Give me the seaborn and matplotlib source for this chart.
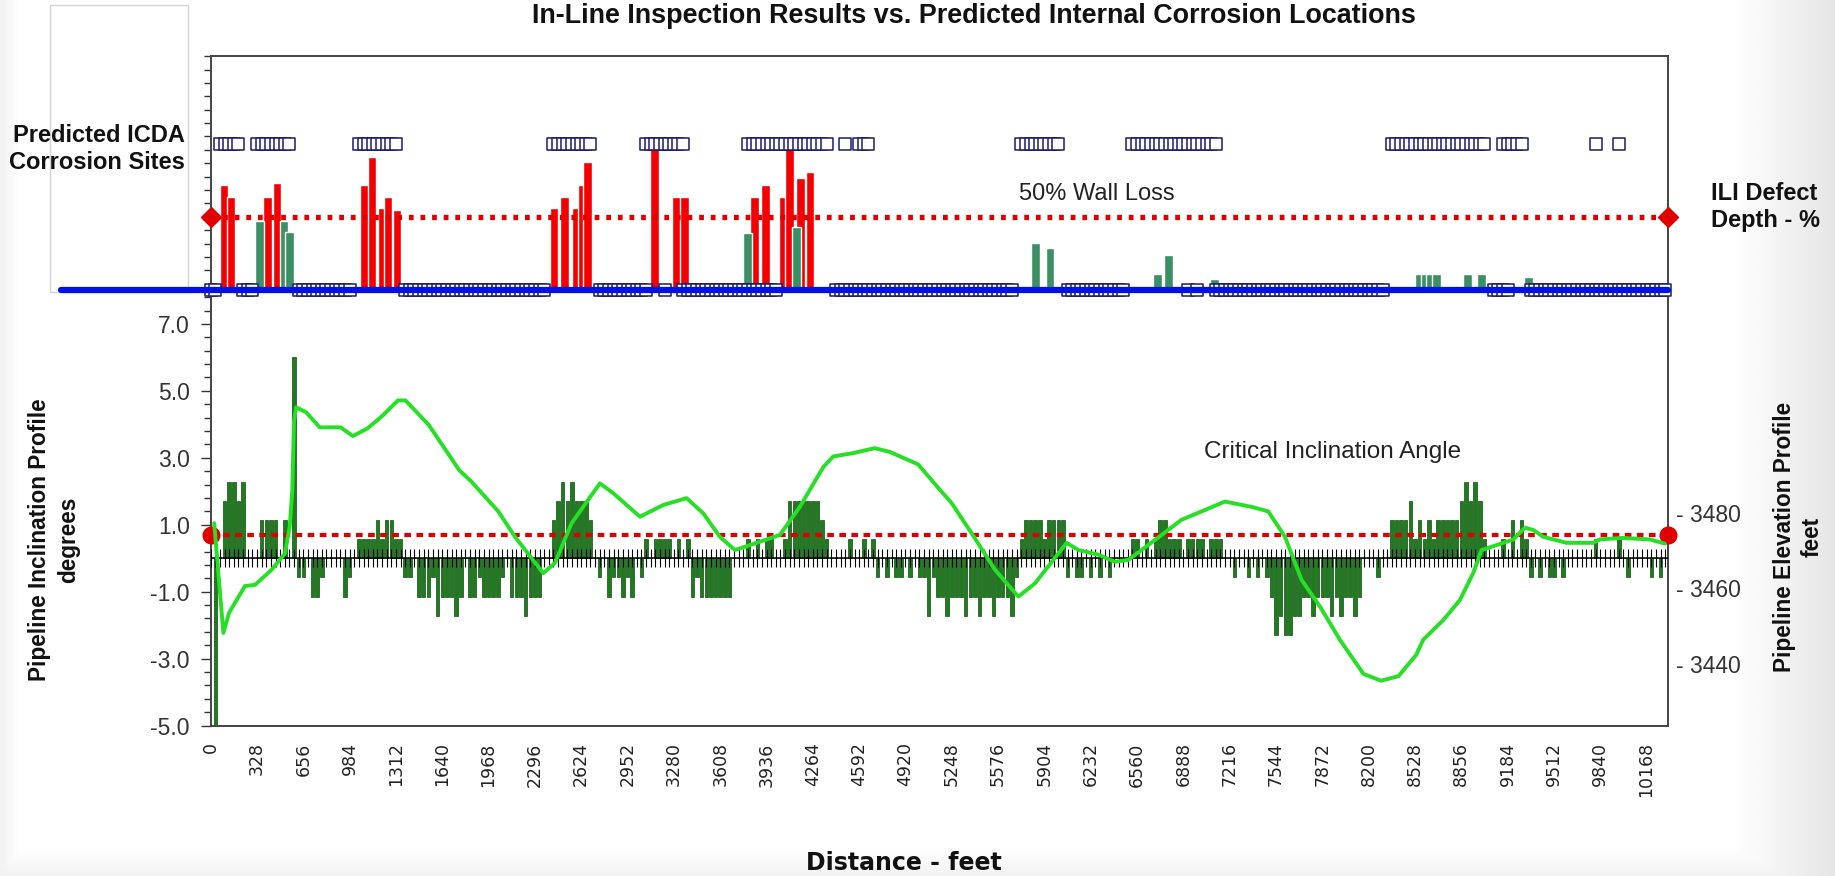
import numpy as np
import pandas as pd
import matplotlib
matplotlib.use("Agg")
import matplotlib.pyplot as plt
from matplotlib.patches import Rectangle
from matplotlib.ticker import MultipleLocator
import seaborn as sns

# -----------------------------
# data
# -----------------------------
STATION_FT = 32.8       # ILI / ICDA station spacing (10 m)
INCL_STEP_DEG = 0.573   # inclination resolution (0.01 rad)
DIST_MAX_FT = 10317

# inclination at each station, in steps of INCL_STEP_DEG
incl_code = [
    0, 0, 0, 3, 4, 4, 3, 4, 0, 0, 0, 2, 2, 2, 2, 0, 2, 0, 0, -1,
    -1, 0, -2, -2, -1, 0, 0, 0, 0, -2, -1, 0, 1, 1, 1, 1, 2, 1, 2, 2,
    1, 1, -1, -1, 0, -2, -2, -2, -1, -3, -2, -2, -2, -3, -2, 0, -2, -2, -1, -2,
    -2, -2, -2, -1, 0, -2, -2, -2, -3, -2, -2, -2, 0, 0, 2, 3, 4, 3, 4, 3,
    3, 3, 2, 0, -1, 0, -2, -1, -1, -2, -1, -2, 0, -1, 1, 0, 1, 1, 1, 1,
    0, 1, 0, 1, -2, -1, -2, -2, -2, -2, -2, -2, -2, 0, 0, 0, 1, 0, 1, 0,
    1, 1, 0, 0, 1, 3, 3, 3, 3, 3, 3, 3, 2, 1, 0, 0, 0, 0, 1, 0,
    0, 1, 0, 1, -1, 0, -1, 0, -1, -1, 0, -1, 0, -1, -1, -3, -1, -2, -2, -3,
    -2, -2, -2, -3, -2, -2, -3, -2, -2, -3, -2, -2, -2, -3, -1, 1, 2, 2, 2, 2,
    1, 2, 2, 2, 2, -1, 0, -1, -1, 0, -1, 0, -1, 0, -1, 0, 0, 0, 0, 1,
    1, 0, 1, 0, 1, 2, 2, 1, 1, 1, 0, 1, 1, 1, 1, 0, 1, 1, 1, 0,
    0, -1, 0, 0, -1, 0, -1, 0, -1, -2, -4, -3, -4, -4, -3, -3, -2, -2, -3, -2,
    -2, -2, -3, -2, -3, -2, -2, -3, -2, 0, 0, 0, -1, 0, 0, 2, 2, 2, 2, 3,
    1, 2, 1, 2, 1, 2, 2, 2, 2, 2, 3, 4, 3, 4, 3, 1, 0, 0, 0, 1,
    0, 2, 0, 2, 1, -1, 0, -1, 0, -1, -1, 0, -1, 0, 0, 0, 0, 0, 0, 1,
    0, 0, 0, 0, 1, 0, -1, 0, 0, 0, 0, -1, 0, -1, 0,
]
spike_idx = [1, 18]
spike_deg = [-5.0, 6.0]

# pipeline elevation profile (feet)
elev_ft = [25, 90, 130, 243, 314, 432, 526, 560, 578, 590, 605, 675, 772, 920,
           1007, 1110, 1218, 1326, 1380, 1545, 1760, 1848, 2037, 2155, 2355,
           2438, 2556, 2756, 2851, 3040, 3205, 3370, 3488, 3606, 3712, 3866,
           4031, 4172, 4338, 4408, 4550, 4703, 4810, 5010, 5164, 5247, 5389,
           5554, 5719, 5837, 6061, 6144, 6285, 6403, 6498, 6734, 6875, 7017,
           7182, 7371, 7489, 7607, 7725, 7855, 7996, 8163, 8287, 8411, 8536,
           8586, 8728, 8846, 8940, 8999, 9082, 9224, 9306, 9365, 9436, 9601,
           9790, 9837, 9998, 10191, 10297]
elev_value = [3477.2, 3448.2, 3453.5, 3460.6, 3460.9, 3464.9, 3469.2, 3476.3,
              3485.9, 3504.1, 3507.8, 3506.5, 3502.5, 3502.5, 3500.2, 3502.2,
              3505.6, 3509.6, 3509.6, 3503.1, 3491.2, 3488.1, 3480.3, 3473.6,
              3464.0, 3466.7, 3477.2, 3487.7, 3485.1, 3478.9, 3482.0, 3483.8,
              3479.8, 3473.6, 3470.1, 3472.0, 3474.1, 3481.5, 3492.0, 3494.8,
              3495.7, 3497.0, 3496.0, 3492.7, 3486.0, 3482.5, 3474.5, 3464.9,
              3457.8, 3461.3, 3472.0, 3470.1, 3468.9, 3467.0, 3467.5, 3474.1,
              3478.1, 3480.3, 3482.9, 3481.5, 3480.3, 3473.6, 3462.2, 3455.2,
              3446.4, 3437.4, 3435.6, 3436.8, 3442.4, 3446.4, 3451.6, 3456.9,
              3464.0, 3470.1, 3471.1, 3472.9, 3476.0, 3475.4, 3473.6, 3472.0,
              3472.0, 3472.9, 3473.3, 3472.9, 3471.8]

# ILI defects: location (ft) and depth (% wall loss)
ili_ft = [94, 144, 345, 405, 470, 520, 560, 1090, 1143, 1215, 1255, 1320,
          2431, 2508, 2590, 2630, 2670, 3145, 3300, 3355, 3800, 3850, 3930,
          4052, 4100, 4150, 4175, 4244, 5840, 5943, 6706, 6780, 7109, 8560,
          8600, 8640, 8680, 8898, 8997, 9333]
ili_depth = [72, 64, 47, 64, 73, 47, 40, 72, 91, 56, 64, 55,
             56, 64, 56, 72, 88, 97, 64, 64, 39, 64, 72,
             64, 97, 43, 77, 81, 32, 29, 11, 24, 8, 11,
             11, 11, 11, 11, 11, 9]

# ICDA model: stretches predicted to corrode, and stretches predicted clear
icda_pred_start = [60, 325, 1020, 2395, 3055, 3775, 4490, 4590, 5725, 6515, 8345, 9150, 9790, 9960]
icda_pred_end = [200, 580, 1340, 2715, 3360, 4390, 4500, 4680, 6030, 7150, 9025, 9310, 9810, 9990]
icda_clear_start = [0, 229, 597, 1365, 2735, 3210, 3337, 4407, 6051, 6895, 6980, 7111, 9059, 9343]
icda_clear_end = [42, 309, 1011, 2381, 3100, 3240, 4019, 5704, 6483, 6925, 7010, 8321, 9190, 10300]

distance_ticks = [0, 328, 656, 984, 1312, 1640, 1968, 2296, 2624, 2952, 3280,
                  3608, 3936, 4264, 4592, 4920, 5248, 5576, 5904, 6232, 6560,
                  6888, 7216, 7544, 7872, 8200, 8528, 8856, 9184, 9512, 9840,
                  10168]
incl_ticks = [-5.0, -3.0, -1.0, 1.0, 3.0, 5.0, 7.0]
elev_ticks = [3440, 3460, 3480]

critical_angle_deg = 0.68
wall_loss_pct = 50

# -----------------------------
# tables
# -----------------------------
stations = np.arange(len(incl_code)) * STATION_FT
incl_deg = np.array(incl_code, dtype=float) * INCL_STEP_DEG
incl_deg[spike_idx] = spike_deg
incl_df = pd.DataFrame({"distance": stations, "incl": incl_deg})

ili_df = pd.DataFrame({"distance": ili_ft, "depth": ili_depth})
ili_df["band"] = np.where(ili_df["depth"] >= wall_loss_pct, "over", "under")


def in_ranges(starts, ends):
    mask = np.zeros(len(stations), dtype=bool)
    for s, e in zip(starts, ends):
        mask |= (stations >= s) & (stations <= e)
    return mask


icda_df = pd.concat([
    pd.DataFrame({"distance": stations[in_ranges(icda_clear_start, icda_clear_end)], "level": 0}),
    pd.DataFrame({"distance": stations[in_ranges(icda_pred_start, icda_pred_end)], "level": 100}),
])

# -----------------------------
# figure
# -----------------------------
sns.set_theme(style="white")
plt.rcParams["font.family"] = ["Liberation Sans", "DejaVu Sans"]

fig = plt.figure(figsize=(18.35, 8.76), dpi=100)
fig.patch.set_facecolor("white")

# slide background shading at the edges
bg = fig.add_axes([0, 0, 1, 1], zorder=-10)
gx = np.linspace(0, 1, 500)
gy = np.linspace(0, 1, 300)
shade_x = np.clip((gx - 0.945) / 0.055, 0, 1) * 0.10 + np.clip((0.01 - gx) / 0.01, 0, 1) * 0.05
shade_y = np.clip((0.03 - gy) / 0.03, 0, 1) * 0.05
shade = 1 - np.maximum(shade_x[None, :], shade_y[:, None])
bg.imshow(shade, extent=[0, 1, 0, 1], origin="lower", aspect="auto", cmap="gray", vmin=0, vmax=1)
bg.set_axis_off()

L, W = 0.1148, 0.794
ax = fig.add_axes([L, 0.1717, W, 0.7642])
ax.set_facecolor("white")

# inclination bars
sns.barplot(data=incl_df, x="distance", y="incl", native_scale=True, width=0.75,
            color="#1e7b1e", edgecolor="#0d4f0d", linewidth=0.5, saturation=1,
            errorbar=None, ax=ax, zorder=2)
ax.axhline(0, color="black", lw=1.1, zorder=3)
ax.vlines(stations, -0.27, 0.28, color="black", lw=0.8, zorder=3)
ax.plot([0, DIST_MAX_FT], [critical_angle_deg] * 2, color="#e00000", lw=3,
        ls=(0, (1.6, 1.3)), marker="o", ms=12, clip_on=False, zorder=4)
ax.text(7034, 3.18, "Critical Inclination Angle", fontsize=17.5, color="#222222",
        va="center", ha="left")

ax.set_xlim(0, DIST_MAX_FT)
ax.set_ylim(-5, 15)
ax.set_xlabel("")
ax.set_ylabel("")
ax.set_xticks(distance_ticks)
ax.set_xticklabels([str(t) for t in distance_ticks], rotation=90,
                   fontfamily="DejaVu Sans", fontsize=12.5, color="#222222")
ax.tick_params(axis="x", length=0, pad=12)
ax.set_yticks(incl_ticks, labels=[f"{v:.1f}" for v in incl_ticks])
ax.yaxis.set_minor_locator(MultipleLocator(0.4, offset=0.2))
ax.tick_params(axis="y", which="both", left=True, direction="out", color="#333333",
               width=1, labelsize=16.5, labelcolor="#333333")
ax.tick_params(axis="y", which="major", length=7, pad=8)
ax.tick_params(axis="y", which="minor", length=5)
for sp in ax.spines.values():
    sp.set_color("#444444")
    sp.set_linewidth(1.4)

# elevation profile on the right axis
ax_el = ax.twinx()
sns.lineplot(x=elev_ft, y=elev_value, ax=ax_el, color="#25e025", lw=2.8)
ax_el.set_ylim(3423.75, 3600.5)
ax_el.set_xlim(0, DIST_MAX_FT)
ax_el.set_ylabel("")
ax_el.set_yticks(elev_ticks, labels=[f"- {v}" for v in elev_ticks])
ax_el.tick_params(axis="y", right=True, length=0, pad=6, labelsize=16.5, labelcolor="#333333")
for sp in ax_el.spines.values():
    sp.set_visible(False)

# top panel: ILI defect depth and ICDA prediction
ax_top = fig.add_axes([L, 0.6687, W, 0.2671])
bar_w = 62 / np.diff(np.sort(ili_df["distance"].unique())).min()
sns.barplot(data=ili_df, x="distance", y="depth", hue="band", native_scale=True,
            palette={"over": "#f50000", "under": "#3b8f64"}, width=bar_w, dodge=False,
            saturation=1, errorbar=None, legend=False, ax=ax_top, zorder=2)
ax_top.plot([0, DIST_MAX_FT], [wall_loss_pct] * 2, color="#e00000", lw=3.8,
            ls=(0, (0.9, 1.3)), marker="D", ms=10, clip_on=False, zorder=4)
sns.scatterplot(data=icda_df, x="distance", y="level", marker="s", s=72,
                color="white", edgecolor="#1b1b6e", linewidth=1.1, ax=ax_top,
                zorder=5, clip_on=False, legend=False)
ax_top.axhline(0, xmin=-0.1027, xmax=1.0, color="#0012e6", lw=4.5, clip_on=False, zorder=6)
ax_top.text(5724, 66, "50% Wall Loss", fontsize=17, color="#222222", va="center", ha="left")
ax_top.set_xlim(0, DIST_MAX_FT)
ax_top.set_ylim(0, 160)
ax_top.set_axis_off()

# frame box on the left and labels
fig.patches.append(Rectangle((50 / 1835, 1 - 292 / 876), 138 / 1835, 287 / 876,
                             transform=fig.transFigure, fill=False,
                             edgecolor="#d4d4d4", lw=1, zorder=-5))
fig.text(0.1008, 0.830, "Predicted ICDA\nCorrosion Sites", ha="right", va="center",
         fontsize=17, fontweight="bold", linespacing=1.25, color="#111111")
fig.text(0.9324, 0.764, "ILI Defect\nDepth - %", ha="left", va="center",
         fontsize=17, fontweight="bold", linespacing=1.2, color="#111111")
fig.text(0.0294, 0.3836, "Pipeline Inclination Profile\ndegrees", rotation=90,
         ha="center", va="center", fontsize=16.3, fontweight="bold", linespacing=1.3,
         color="#111111")
fig.text(0.980, 0.387, "Pipeline Elevation Profile\nfeet", rotation=90,
         ha="center", va="center", fontsize=16.3, fontweight="bold", linespacing=1.3,
         color="#111111")
fig.text(0.4924, 0.0154, "Distance - feet", ha="center", va="center",
         fontfamily="DejaVu Sans", fontsize=17, fontweight="bold", color="#111111")
fig.text(0.531, 0.997,
         "In-Line Inspection Results vs. Predicted Internal Corrosion Locations",
         ha="center", va="top", fontsize=19.4, fontweight="bold", color="#111111")

fig.savefig("out.png", dpi=100)
